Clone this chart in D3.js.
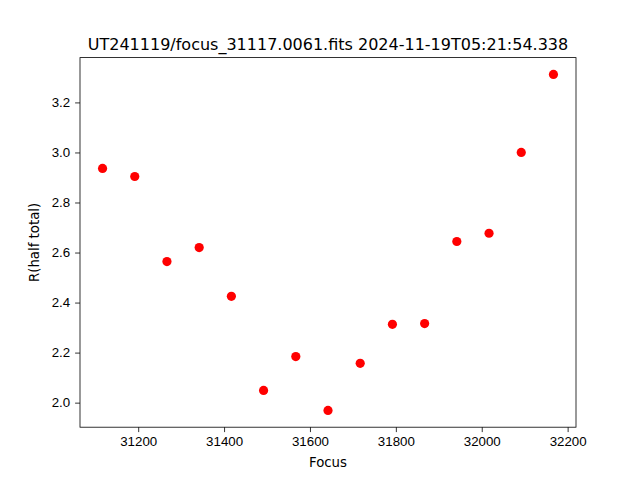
<!DOCTYPE html>
<html>
<head>
<meta charset="utf-8">
<script src="https://cdn.jsdelivr.net/npm/d3@7"></script>
<style>
  html, body { margin: 0; padding: 0; background: #fff; overflow: hidden; }
  svg { display: block; font-family: "DejaVu Sans", sans-serif; }
  .axis path, .axis line { stroke: #000; stroke-width: 0.8; }
  .axis text { font-size: 13.3px; fill: #000; }
</style>
</head>
<body>
<div id="chart"></div>
<script>
const focus = [31117, 31192, 31267, 31342, 31417, 31492, 31567, 31642, 31717, 31792, 31867, 31942, 32017, 32092, 32167];
const rHalf = [2.936, 2.904, 2.564, 2.620, 2.425, 2.049, 2.184, 1.969, 2.157, 2.313, 2.316, 2.644, 2.677, 3.000, 3.312];
const xTicks = [31200, 31400, 31600, 31800, 32000, 32200];
const yTicks = [2.0, 2.2, 2.4, 2.6, 2.8, 3.0, 3.2];

const width = 640;
const height = 480;
const margin = { top: 57.6, right: 64, bottom: 52.8, left: 80 };
const innerWidth = width - margin.left - margin.right;
const innerHeight = height - margin.top - margin.bottom;

// matplotlib style 5% padding round the data
const pad = (ext) => {
  const d = (ext[1] - ext[0]) * 0.05;
  return [ext[0] - d, ext[1] + d];
};

const xScale = d3.scaleLinear()
  .domain(pad(d3.extent(focus)))
  .range([0, innerWidth]);

const yScale = d3.scaleLinear()
  .domain(pad(d3.extent(rHalf)))
  .range([innerHeight, 0]);

const svg = d3.select('#chart')
  .append('svg')
    .attr('width', width)
    .attr('height', height);

const inner = svg.append('g')
  .attr('transform', `translate(${margin.left}, ${margin.top})`);

inner.append('g')
  .attr('class', 'axis axis-x')
  .attr('transform', `translate(0, ${innerHeight})`)
  .call(d3.axisBottom(xScale).tickValues(xTicks).tickFormat(d3.format('d')).tickSize(4.9).tickPadding(4.9))
  .call(g => g.select('.domain').remove());

inner.append('g')
  .attr('class', 'axis axis-y')
  .call(d3.axisLeft(yScale).tickValues(yTicks).tickFormat(d3.format('.1f')).tickSize(4.9).tickPadding(4.9))
  .call(g => g.select('.domain').remove());

inner.selectAll('.dot')
  .data(focus)
  .enter().append('circle')
    .attr('class', 'dot')
    .attr('cx', d => xScale(d))
    .attr('cy', (d, i) => yScale(rHalf[i]))
    .attr('r', 4.6)
    .attr('fill', '#ff0000');

// frame
inner.append('rect')
  .attr('width', innerWidth)
  .attr('height', innerHeight)
  .attr('fill', 'none')
  .attr('stroke', '#000')
  .attr('stroke-width', 0.8);

svg.append('text')
  .attr('x', margin.left + innerWidth / 2)
  .attr('y', margin.top - 8)
  .attr('text-anchor', 'middle')
  .attr('font-size', 16)
  .text('UT241119/focus_31117.0061.fits 2024-11-19T05:21:54.338');

svg.append('text')
  .attr('x', margin.left + innerWidth / 2)
  .attr('y', 467)
  .attr('text-anchor', 'middle')
  .attr('font-size', 13.3)
  .text('Focus');

svg.append('text')
  .attr('transform', `translate(39, ${margin.top + innerHeight / 2}) rotate(-90)`)
  .attr('text-anchor', 'middle')
  .attr('font-size', 13.3)
  .text('R(half total)');
</script>
</body>
</html>
